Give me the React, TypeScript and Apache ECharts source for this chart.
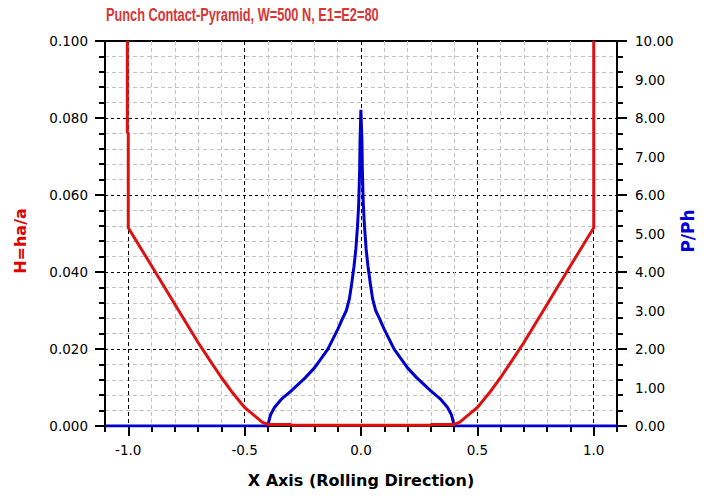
import { useEffect, useRef } from 'react';
import * as echarts from 'echarts';

const titleText = 'Punch Contact-Pyramid, W=500 N, E1=E2=80';
const xName = 'X Axis (Rolling Direction)';
const leftName = 'H=ha/a';
const rightName = 'P/Ph';

const majorX = [-1.0, -0.5, 0.0, 0.5, 1.0];

// Red curve: H = ha/a (left axis)
const redX = [-1.004, -1.004, -1.0, -1.0, -0.9, -0.8, -0.7, -0.65, -0.6, -0.55, -0.5, -0.45, -0.425, -0.4, -0.3, -0.3, 0.3, 0.3, 0.4, 0.425, 0.45, 0.5, 0.55, 0.6, 0.65, 0.7, 0.8, 0.9, 1.0, 1.0];
const redH = [0.1, 0.0762, 0.0762, 0.0515, 0.0416, 0.0316, 0.0217, 0.0171, 0.0126, 0.0085, 0.0048, 0.0023, 0.001, 0.0004, 0.0004, 0.0002, 0.0002, 0.0004, 0.0004, 0.001, 0.0023, 0.0048, 0.0085, 0.0126, 0.0171, 0.0217, 0.0316, 0.0416, 0.0515, 0.1];

// Blue curve: P/Ph (right axis)
const blueX = [-1.1, -0.4, -0.395, -0.388, -0.372, -0.343, -0.3, -0.24, -0.2, -0.143, -0.1, -0.08, -0.063, -0.05, -0.04, -0.03, -0.022, -0.015, -0.01, -0.006, -0.004, -0.0005, 0.0005, 0.004, 0.006, 0.01, 0.015, 0.022, 0.03, 0.04, 0.05, 0.063, 0.08, 0.1, 0.143, 0.2, 0.24, 0.3, 0.343, 0.372, 0.388, 0.395, 0.4, 1.1];
const blueP = [0, 0, 0.15, 0.3, 0.48, 0.69, 0.91, 1.25, 1.51, 1.99, 2.51, 2.78, 3.0, 3.3, 3.7, 4.15, 4.6, 5.19, 5.75, 6.6, 7.43, 8.21, 8.21, 7.43, 6.6, 5.75, 5.19, 4.6, 4.15, 3.7, 3.3, 3.0, 2.78, 2.51, 1.99, 1.51, 1.25, 0.91, 0.69, 0.48, 0.3, 0.15, 0, 0];

const GRAY = '#c4c4c4';
const BLACK = '#000000';
const tickFont = { fontFamily: 'DejaVu Sans', fontSize: 13.5, color: '#000' };

export default function App() {
  const ref = useRef<HTMLDivElement>(null);
  useEffect(() => {
    document.body.style.margin = '0';
    const chart = echarts.init(ref.current!, null, { renderer: 'svg' });
    chart.setOption({
      animation: false,
      backgroundColor: '#ffffff',
      grid: {
        left: 105, right: 91, top: 41, bottom: 77,
        show: true, borderColor: '#000', borderWidth: 2, backgroundColor: 'transparent',
      },
      xAxis: [
        {
          type: 'value', min: -1.1, max: 1.1, interval: 0.1, position: 'bottom',
          axisLine: { show: true, onZero: false, lineStyle: { color: '#000', width: 2 } },
          axisTick: { show: true, length: 6, lineStyle: { color: '#000', width: 2 } },
          axisLabel: { show: false },
          splitLine: { show: true, lineStyle: { color: [GRAY, BLACK, GRAY, GRAY, GRAY], type: [4, 3], width: 1 } },
          name: xName, nameLocation: 'middle', nameGap: 46,
          nameTextStyle: { fontFamily: 'DejaVu Sans', fontWeight: 'bold', fontSize: 16, color: '#000' },
        },
        {
          type: 'value', min: -1.1, max: 1.1, position: 'bottom',
          axisLine: { show: false },
          axisTick: { show: true, length: 10, customValues: majorX, lineStyle: { color: '#000', width: 2 } },
          axisLabel: {
            show: true, customValues: majorX, margin: 17, ...tickFont,
            formatter: (v: number) => (Math.round(v * 10) / 10 + 0).toFixed(1),
          },
          splitLine: { show: false },
        },
      ],
      yAxis: [
        {
          type: 'value', min: 0, max: 0.1, interval: 0.02, position: 'left',
          axisLine: { show: true, onZero: false, lineStyle: { color: '#000', width: 2 } },
          axisTick: { show: true, length: 10, lineStyle: { color: '#000', width: 2 } },
          minorTick: { show: true, splitNumber: 5, length: 6, lineStyle: { color: '#000', width: 2 } },
          axisLabel: { margin: 17, ...tickFont, formatter: (v: number) => v.toFixed(3) },
          splitLine: { show: true, lineStyle: { color: BLACK, type: [3, 3], width: 1 } },
          minorSplitLine: { show: true, lineStyle: { color: GRAY, type: [4, 3], width: 1 } },
        },
        {
          type: 'value', min: 0, max: 10, interval: 2, position: 'right',
          axisLine: { show: true, onZero: false, lineStyle: { color: '#000', width: 2 } },
          axisTick: { show: true, length: 10, lineStyle: { color: '#000', width: 2 } },
          minorTick: { show: true, splitNumber: 5, length: 6, lineStyle: { color: '#000', width: 2 } },
          axisLabel: { show: false },
          splitLine: { show: false },
        },
        {
          type: 'value', min: 0, max: 10, interval: 1, position: 'right',
          axisLine: { show: false },
          axisTick: { show: false },
          axisLabel: { margin: 18, ...tickFont, formatter: (v: number) => v.toFixed(2) },
          splitLine: { show: false },
        },
      ],
      graphic: [
        {
          type: 'text', x: 106, y: 14, scaleX: 0.672,
          style: { text: titleText, fill: '#d83535', font: 'bold 19px "Liberation Sans", Arial, sans-serif', align: 'left', verticalAlign: 'middle' },
        },
        {
          type: 'text', x: 20, y: 241, rotation: Math.PI / 2,
          style: { text: leftName, fill: '#e00000', font: 'bold 16px "DejaVu Sans", sans-serif', align: 'center', verticalAlign: 'middle' },
        },
        {
          type: 'text', x: 688, y: 231, rotation: Math.PI / 2,
          style: { text: rightName, fill: '#0000dd', font: 'bold 17px "DejaVu Sans", sans-serif', align: 'center', verticalAlign: 'middle' },
        },
      ],
      series: [
        {
          type: 'line', xAxisIndex: 0, yAxisIndex: 1, symbol: 'none', showSymbol: false, z: 3,
          data: blueX.map((x, i) => [x, blueP[i]]),
          lineStyle: { color: '#0000cc', width: 3 },
        },
        {
          type: 'line', xAxisIndex: 0, yAxisIndex: 0, symbol: 'none', showSymbol: false, z: 4,
          data: redX.map((x, i) => [x, redH[i]]),
          lineStyle: { color: '#dd1111', width: 3 },
        },
      ],
    });
    return () => chart.dispose();
  }, []);
  return <div ref={ref} style={{ width: 708, height: 503 }} />;
}
